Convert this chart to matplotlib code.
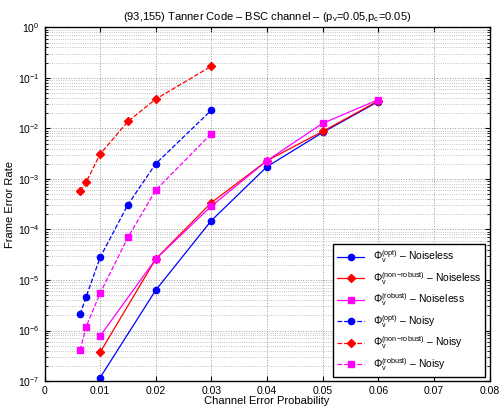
import matplotlib
matplotlib.use('Agg')
import matplotlib.pyplot as plt
from matplotlib.ticker import FixedLocator, NullFormatter, LogFormatterSciNotation

plt.rcParams['font.family'] = ['Liberation Sans', 'DejaVu Sans']
plt.rcParams['mathtext.fontset'] = 'custom'
plt.rcParams['mathtext.rm'] = 'Liberation Sans'
plt.rcParams['mathtext.it'] = 'Liberation Sans:italic'

# noiseless decoders
p_noiseless = [0.01, 0.02, 0.03, 0.04, 0.05, 0.06]
fer_opt = [1.17e-7, 6.3e-6, 1.5e-4, 1.75e-3, 8.3e-3, 3.4e-2]
fer_nonrob = [3.7e-7, 2.6e-5, 3.4e-4, 2.3e-3, 8.7e-3, 3.5e-2]
fer_rob = [7.8e-7, 2.6e-5, 2.9e-4, 2.3e-3, 1.26e-2, 3.7e-2]

# noisy decoders
p_noisy = [0.0064, 0.0075, 0.01, 0.015, 0.02, 0.03]
fer_opt_noisy = [2.1e-6, 4.7e-6, 2.8e-5, 3.1e-4, 2.0e-3, 2.3e-2]
fer_nonrob_noisy = [5.7e-4, 8.7e-4, 3.1e-3, 1.37e-2, 3.8e-2, 1.7e-1]
fer_rob_noisy = [4.1e-7, 1.2e-6, 5.5e-6, 7.0e-5, 6.0e-4, 7.9e-3]

x_ticks = [0, 0.01, 0.02, 0.03, 0.04, 0.05, 0.06, 0.07, 0.08]
x_tick_labels = ['0', '0.01', '0.02', '0.03', '0.04', '0.05', '0.06', '0.07', '0.08']
y_ticks = [1e-7, 1e-6, 1e-5, 1e-4, 1e-3, 1e-2, 1e-1, 1]

fig = plt.figure(figsize=(5, 4.08), dpi=100)
ax = fig.add_axes([0.089, 0.066, 0.89, 0.867])

blue, red, mag = '#0000ff', '#ff0000', '#ff00ff'
lines = [
    (p_noiseless, fer_opt, blue, 'o', '-', r'$\Phi_{\rm v}^{\rm (opt)}$ – Noiseless'),
    (p_noiseless, fer_nonrob, red, 'D', '-', r'$\Phi_{\rm v}^{\rm (non\!-\!robust)}$ – Noiseless'),
    (p_noiseless, fer_rob, mag, 's', '-', r'$\Phi_{\rm v}^{\rm (robust)}$ – Noiseless'),
    (p_noisy, fer_opt_noisy, blue, 'o', '--', r'$\Phi_{\rm v}^{\rm (opt)}$ – Noisy'),
    (p_noisy, fer_nonrob_noisy, red, 'D', '--', r'$\Phi_{\rm v}^{\rm (non\!-\!robust)}$ – Noisy'),
    (p_noisy, fer_rob_noisy, mag, 's', '--', r'$\Phi_{\rm v}^{\rm (robust)}$ – Noisy'),
]
for x, y, c, mk, ls, label in lines:
    ms = 4 if mk == 'D' else 4.5
    ax.plot(x, y, color=c, marker=mk, linestyle=ls, linewidth=0.9,
            markersize=ms, label=label)

ax.set_yscale('log')
ax.set_xlim(0, 0.08)
ax.set_ylim(1e-7, 1)
ax.xaxis.set_major_locator(FixedLocator(x_ticks))
ax.set_xticklabels(x_tick_labels)
ax.yaxis.set_major_locator(FixedLocator(y_ticks))
ax.yaxis.set_major_formatter(LogFormatterSciNotation())
minor = [m * 10.0 ** e for e in range(-7, 0) for m in range(2, 10)]
ax.yaxis.set_minor_locator(FixedLocator(minor))
ax.yaxis.set_minor_formatter(NullFormatter())

ax.grid(True, which='major', linestyle=':', color='#999999', linewidth=0.7)
ax.grid(True, which='minor', axis='y', linestyle=':', color='#b0b0b0', linewidth=0.6)
ax.tick_params(which='both', direction='in', top=True, right=True, labelsize=7.5)
for s in ax.spines.values():
    s.set_linewidth(1.0)

ax.set_title(r'(93,155) Tanner Code – BSC channel – (p$_{\rm v}$=0.05,p$_{\rm c}$=0.05)',
             fontsize=8, pad=5)
ax.set_xlabel('Channel Error Probability', fontsize=8, labelpad=0)
ax.set_ylabel('Frame Error Rate', fontsize=8, labelpad=2)

leg = ax.legend(loc='lower right', fontsize=7.5, fancybox=False, framealpha=1,
                edgecolor='black', borderaxespad=0.4, handlelength=2.6,
                labelspacing=0.45)
leg.get_frame().set_linewidth(1.0)

plt.savefig('out.png', dpi=100)
plt.close()
